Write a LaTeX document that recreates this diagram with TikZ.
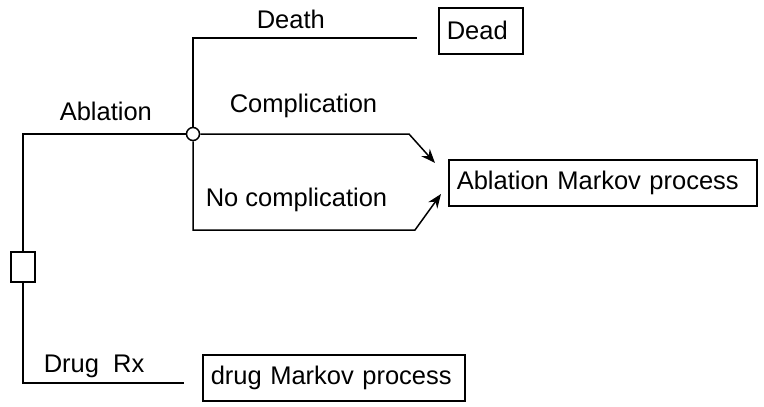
\documentclass[tikz,border=0pt]{standalone}
\usepackage{fontspec}
\setmainfont{Liberation Sans}
\usetikzlibrary{arrows.meta}
\begin{document}
\begin{tikzpicture}[x=1pt,y=-1pt,line width=1.5pt,
    lbl/.style={font=\fontsize{25.5}{30}\selectfont,inner sep=0pt,anchor=base west},
    statebox/.style={draw,anchor=north west,minimum height=46pt,inner xsep=8pt,inner ysep=0pt,
      font=\fontsize{25.5}{30}\selectfont,align=left},
    arr/.style={-{Stealth[length=14pt,width=11pt]}}]
  \useasboundingbox (0,0) rectangle (764,407);
  % decision and chance nodes
  \node[draw,minimum width=24pt,minimum height=30pt,inner sep=0pt] (dec) at (23,267) {};
  \node[draw,circle,fill=white,minimum size=13pt,inner sep=0pt] (ch) at (193,134) {};
  % end states
  \node[statebox,text width=68pt] (dead) at (438,7) {Dead};
  \node[statebox,text width=292pt] (amp) at (448,159) {Ablation Markov process};
  \node[statebox,text width=246pt] (dmp) at (202,354) {drug Markov process};
  % free ends of the branches
  \coordinate (deathend) at (417,38);
  \coordinate (cbend) at (409,134);
  \coordinate (ctip) at (435,163);
  \coordinate (nbend) at (415,230);
  \coordinate (ntip) at (441,194);
  \coordinate (drugend) at (184,383);
  % branches
  \draw (dec.north) |- (ch.west);
  \draw (ch.north) |- (deathend);
  \draw[arr] (ch.east) -- (cbend) -- (ctip);
  \draw[arr] (ch.south) |- (nbend) -- (ntip);
  \draw (dec.south) |- (drugend);
  % branch labels
  \node[lbl] (ablbl) at (59,120) {Ablation};
  \node[lbl] (deathlbl) at (256,28) {Death};
  \node[lbl] (complbl) at (229,112) {Complication};
  \node[lbl] (nocomplbl) at (205,206) {No complication};
  \node[lbl] (druglbl) at (43,372) {Drug~~Rx};
\end{tikzpicture}
\end{document}
